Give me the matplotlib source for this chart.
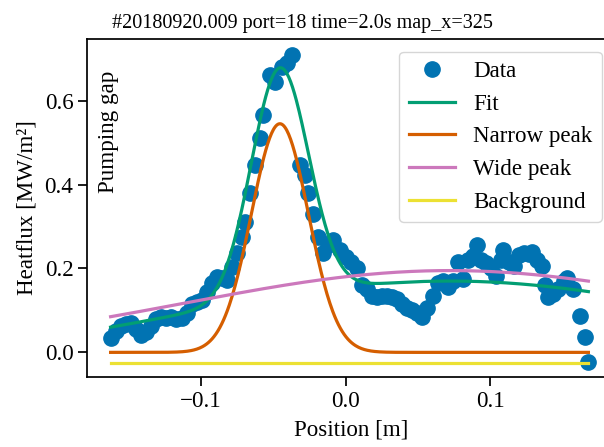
import numpy as np
import matplotlib.pyplot as plt

plt.rcParams['font.family'] = ['Liberation Serif', 'DejaVu Serif']
plt.rcParams['font.size'] = 16.6
plt.rcParams['axes.linewidth'] = 1.25
plt.rcParams['xtick.major.width'] = 1.25
plt.rcParams['ytick.major.width'] = 1.25
plt.rcParams['xtick.major.size'] = 6.5
plt.rcParams['ytick.major.size'] = 6.5
plt.rcParams['xtick.major.pad'] = 4
plt.rcParams['ytick.major.pad'] = 3.5

# measured heat flux profile
position = [
    -0.1625, -0.1590, -0.1555, -0.1520, -0.1485, -0.1450, -0.1415, -0.1380,
    -0.1345, -0.1310, -0.1275, -0.1240, -0.1205, -0.1170, -0.1135, -0.1100,
    -0.1065, -0.1030, -0.0995, -0.0960, -0.0925, -0.0890, -0.0855, -0.0820,
    -0.0785, -0.0753, -0.0719, -0.0696, -0.0661, -0.0627, -0.0592, -0.0569,
    -0.0523, -0.0489, -0.0442, -0.0408, -0.0373, -0.0316, -0.0281, -0.0258,
    -0.0224, -0.0190, -0.0160, -0.0125, -0.0086, -0.0039, 0.0005, 0.0035,
    0.0076, 0.0110, 0.0145, 0.0180, 0.0215, 0.0250, 0.0285, 0.0320,
    0.0355, 0.0390, 0.0425, 0.0460, 0.0495, 0.0530, 0.0565, 0.0600,
    0.0635, 0.0670, 0.0705, 0.0740, 0.0775, 0.0810, 0.0845, 0.0880,
    0.0905, 0.0935, 0.0970, 0.1005, 0.1035, 0.1070, 0.1090, 0.1125,
    0.1160, 0.1195, 0.1230, 0.1265, 0.1285, 0.1320, 0.1355, 0.1377,
    0.1400, 0.1435, 0.1470, 0.1505, 0.1527, 0.1573, 0.1620, 0.1654,
    0.1677,
]
heatflux = [
    0.035, 0.052, 0.062, 0.068, 0.070, 0.055, 0.042, 0.048,
    0.062, 0.080, 0.085, 0.083, 0.085, 0.080, 0.082, 0.095,
    0.115, 0.120, 0.125, 0.145, 0.165, 0.180, 0.178, 0.172,
    0.204, 0.236, 0.276, 0.311, 0.379, 0.446, 0.510, 0.566,
    0.661, 0.645, 0.680, 0.689, 0.709, 0.446, 0.423, 0.379,
    0.331, 0.276, 0.236, 0.255, 0.268, 0.245, 0.228, 0.216,
    0.200, 0.160, 0.150, 0.135, 0.132, 0.135, 0.135, 0.132,
    0.128, 0.115, 0.105, 0.102, 0.095, 0.085, 0.105, 0.135,
    0.165, 0.170, 0.155, 0.170, 0.216, 0.175, 0.220, 0.230,
    0.256, 0.220, 0.214, 0.200, 0.182, 0.220, 0.244, 0.215,
    0.205, 0.232, 0.236, 0.235, 0.240, 0.220, 0.205, 0.160,
    0.132, 0.140, 0.152, 0.170, 0.178, 0.150, 0.087, 0.037,
    -0.022,
]

# fitted model parameters: amplitude [MW/m2], centre [m], sigma [m]
narrow = (0.545, -0.0455, 0.0197)
wide = (0.195, 0.072, 0.182)
background = -0.025


def gauss(x, amp, mu, sigma):
    return amp * np.exp(-(x - mu) ** 2 / (2 * sigma ** 2))


x = np.array(position)
xf = np.linspace(x.min(), x.max(), 500)
narrow_peak = gauss(xf, *narrow)
wide_peak = gauss(xf, *wide)
bg = np.full_like(xf, background)
fit = narrow_peak + wide_peak + bg

fig = plt.figure(figsize=(6.04, 4.47), dpi=100)
ax = fig.add_axes([87.3 / 604, 70.3 / 447, 527 / 604, 337.7 / 447])

ax.plot(position, heatflux, 'o', color='#0173b2', ms=11, label='Data')
ax.plot(xf, fit, color='#029e73', lw=2.3, label='Fit')
ax.plot(xf, narrow_peak, color='#d55e00', lw=2.3, label='Narrow peak')
ax.plot(xf, wide_peak, color='#cc78bc', lw=2.3, label='Wide peak')
ax.plot(xf, bg, color='#ece133', lw=2.3, label='Background')

ax.text(-0.164, 0.672, 'Pumping gap', rotation=90, ha='center', va='top')

ax.set_xlim(-0.1786, 0.1856)
ax.set_ylim(-0.058, 0.747)
ax.set_xticks([-0.1, 0.0, 0.1])
ax.set_yticks([0.0, 0.2, 0.4, 0.6])
ax.set_xlabel('Position [m]', labelpad=5)
ax.set_ylabel('Heatflux [MW/m²]', labelpad=5)
ax.legend(loc='upper right', numpoints=1, borderaxespad=0.55)
fig.suptitle('#20180920.009 port=18 time=2.0s map_x=325', x=0.5, y=0.968,
             fontsize=14.5)

fig.savefig('out.png', dpi=100)
